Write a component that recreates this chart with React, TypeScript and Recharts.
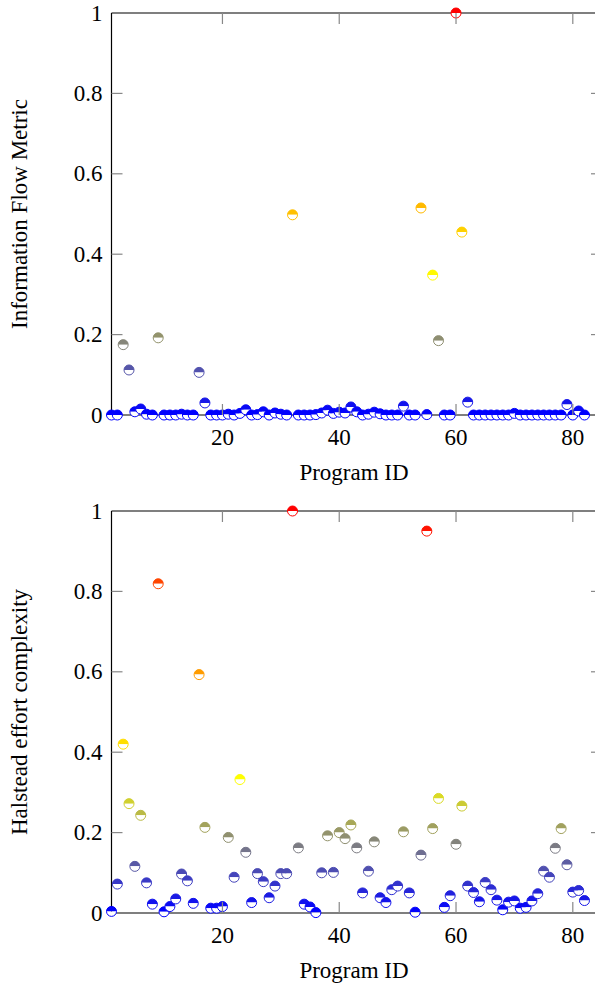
import { ScatterChart, Scatter, XAxis, YAxis, ReferenceLine } from 'recharts'

// program ids 1..82
const programIds = Array.from({ length: 82 }, (_, i) => i + 1)

const informationFlow = [
  0, 0, 0.175, 0.112, 0.008, 0.015, 0.002, 0, 0.192, 0,
  0, 0, 0.002, 0, 0, 0.106, 0.03, 0, 0, 0,
  0.002, 0, 0.004, 0.013, 0, 0.001, 0.008, 0, 0.005, 0.002,
  0, 0.498, 0, 0, 0, 0.001, 0.005, 0.012, 0.004, 0.007,
  0.005, 0.02, 0.008, 0, 0.002, 0.007, 0.003, 0, 0, 0,
  0.022, 0, 0, 0.515, 0.001, 0.348, 0.185, 0, 0, 1,
  0.455, 0.032, 0, 0, 0, 0, 0, 0, 0, 0.004,
  0, 0, 0, 0, 0, 0, 0, 0, 0.026, 0,
  0.01, 0,
]

const halsteadEffort = [
  0.004, 0.072, 0.42, 0.272, 0.116, 0.243, 0.075, 0.022, 0.819, 0.003,
  0.016, 0.035, 0.097, 0.08, 0.024, 0.593, 0.213, 0.012, 0.012, 0.016,
  0.188, 0.089, 0.332, 0.151, 0.026, 0.098, 0.078, 0.038, 0.067, 0.098,
  0.098, 1, 0.162, 0.022, 0.015, 0.001, 0.1, 0.192, 0.101, 0.2,
  0.185, 0.219, 0.162, 0.05, 0.104, 0.177, 0.038, 0.026, 0.058, 0.067,
  0.202, 0.05, 0.002, 0.144, 0.95, 0.21, 0.285, 0.014, 0.043, 0.171,
  0.266, 0.067, 0.051, 0.028, 0.076, 0.058, 0.032, 0.008, 0.027, 0.03,
  0.012, 0.014, 0.03, 0.048, 0.104, 0.089, 0.161, 0.21, 0.12, 0.052,
  0.056, 0.031,
]

const xTicks = [20, 40, 60, 80]
const yTicks = [0, 0.2, 0.4, 0.6, 0.8, 1]

const FONT = "'Liberation Serif', 'DejaVu Serif', serif"
const FONT_SIZE = 23
const W = 608
const TOP = 13
const PLOT_H = 402
const LEFT = 111.5
const RIGHT_MARGIN = 6
const PLOT_W = W - LEFT - RIGHT_MARGIN
const TICK = 11

const textStyle = { fontFamily: FONT, fontSize: FONT_SIZE, fill: '#000' }

// blue -> yellow -> orange -> red
const stops = [
  [0, 0, 255],
  [255, 255, 0],
  [255, 128, 0],
  [255, 0, 0],
]

function mapColor(v: number) {
  const t = Math.max(0, Math.min(1, v)) * 3
  const i = Math.min(2, Math.floor(t))
  const f = t - i
  const a = stops[i]
  const b = stops[i + 1]
  const c = a.map((ch, k) => Math.round(ch + (b[k] - ch) * f))
  return `rgb(${c[0]},${c[1]},${c[2]})`
}

function HalfCircle(props: any) {
  const { cx, cy, payload } = props
  if (cx == null || cy == null) return null
  const r = 5
  const c = mapColor(payload.v)
  return (
    <g>
      <path d={`M${cx - r},${cy} A${r},${r} 0 0 1 ${cx + r},${cy} Z`} fill={c} />
      <path d={`M${cx - r},${cy} A${r},${r} 0 0 0 ${cx + r},${cy} Z`} fill="#fff" />
      <circle cx={cx} cy={cy} r={r} fill="none" stroke={c} strokeWidth={1} />
    </g>
  )
}

function XTick(props: any) {
  const { x, payload } = props
  const bottom = TOP + PLOT_H
  return (
    <g>
      <line x1={x} x2={x} y1={bottom} y2={bottom - TICK} stroke="#888" strokeWidth={1.2} />
      <line x1={x} x2={x} y1={TOP} y2={TOP + TICK} stroke="#888" strokeWidth={1.2} />
      <text x={x} y={bottom + 22} textAnchor="middle" dominantBaseline="central" style={textStyle}>
        {payload.value}
      </text>
    </g>
  )
}

function YTick(props: any) {
  const { y, payload } = props
  const edge = payload.value === 0 || payload.value === 1
  return (
    <g>
      {!edge && (
        <>
          <line x1={LEFT} x2={LEFT + TICK} y1={y} y2={y} stroke="#888" strokeWidth={1.2} />
          <line x1={LEFT + PLOT_W - TICK} x2={LEFT + PLOT_W} y1={y} y2={y} stroke="#888" strokeWidth={1.2} />
        </>
      )}
      <text x={LEFT - 9} y={y} textAnchor="end" dominantBaseline="central" style={textStyle}>
        {String(payload.value)}
      </text>
    </g>
  )
}

function XTitle({ text }: any) {
  return (
    <text x={354} y={TOP + PLOT_H + 57} textAnchor="middle" dominantBaseline="central" style={textStyle}>
      {text}
    </text>
  )
}

function YTitle({ text }: any) {
  const cy = TOP + PLOT_H / 2
  return (
    <text
      x={19}
      y={cy}
      transform={`rotate(-90, 19, ${cy})`}
      textAnchor="middle"
      dominantBaseline="central"
      style={textStyle}
    >
      {text}
    </text>
  )
}

function MetricScatter({ values, yLabel, height }: { values: number[]; yLabel: string; height: number }) {
  const data = programIds.map((id, i) => ({ x: id, v: values[i] }))
  return (
    <ScatterChart
      width={W}
      height={height}
      margin={{ top: TOP, right: RIGHT_MARGIN, bottom: 0, left: 0 }}
      style={{ fontFamily: FONT }}
    >
      <XAxis
        type="number"
        dataKey="x"
        domain={[1, 85]}
        ticks={xTicks}
        interval={0}
        tickSize={0}
        tickMargin={0}
        tickLine={false}
        axisLine={{ stroke: '#000', strokeWidth: 1.2 }}
        height={height - TOP - PLOT_H}
        tick={(p: any) => <XTick {...p} />}
        label={<XTitle text="Program ID" />}
      />
      <YAxis
        type="number"
        dataKey="v"
        domain={[0, 1]}
        ticks={yTicks}
        interval={0}
        tickSize={0}
        tickMargin={0}
        tickLine={false}
        axisLine={{ stroke: '#000', strokeWidth: 1.2 }}
        width={LEFT}
        tick={(p: any) => <YTick {...p} />}
        label={<YTitle text={yLabel} />}
      />
      <ReferenceLine y={1} stroke="#000" strokeWidth={1.2} />
      <Scatter data={data} isAnimationActive={false} shape={(p: any) => <HalfCircle {...p} />} />
    </ScatterChart>
  )
}

export default function App() {
  return (
    <div
      style={{
        position: 'absolute',
        left: 0,
        top: 0,
        width: 595,
        height: 985,
        overflow: 'hidden',
        fontFamily: FONT,
      }}
    >
      <MetricScatter values={informationFlow} yLabel="Information Flow Metric" height={498} />
      <MetricScatter values={halsteadEffort} yLabel="Halstead effort complexity" height={487} />
    </div>
  )
}
